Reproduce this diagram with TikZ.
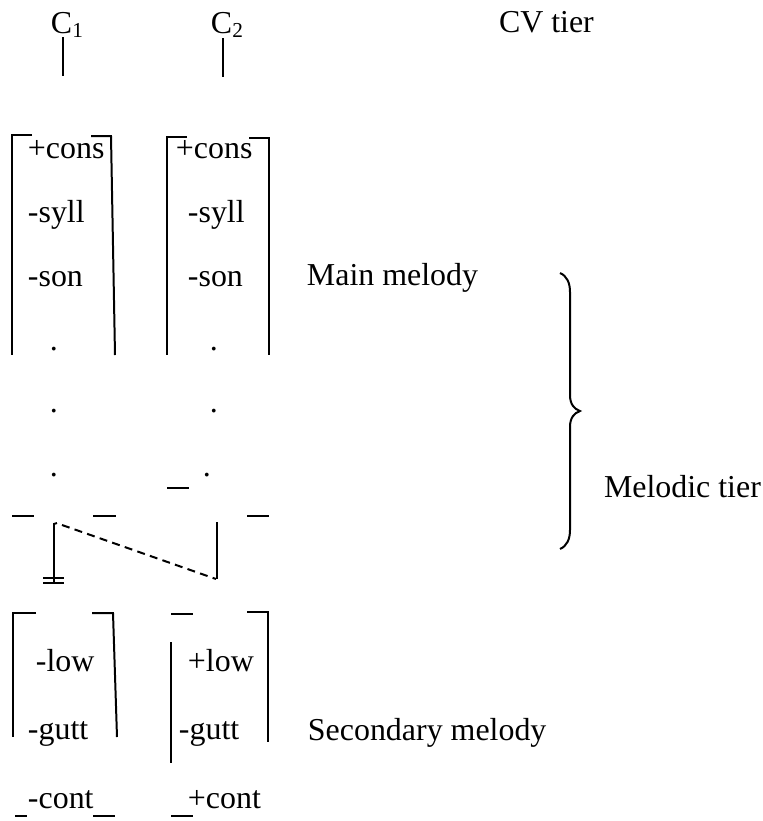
\documentclass[tikz,border=0pt]{standalone}
\usepackage{fontspec}
\setmainfont{Liberation Serif}
\usetikzlibrary{positioning}

\begin{document}
\begin{tikzpicture}[x=0.376pt, y=-0.376pt, line width=0.75pt,
    seg/.style={anchor=base west, inner sep=0pt, font=\fontsize{12}{14}\selectfont}]
    \useasboundingbox (0,0) rectangle (763,821);

    % CV tier
    \node[seg] (c1) at (50,33) {C\textsubscript{1}};
    \node[seg] (c2) at (210,33) {C\textsubscript{2}};
    \node[seg] (cvtier) at (498,32) {CV tier};
    \draw (63,37) -- (63,76);
    \draw (223,38) -- (223,77);

    % Main melody matrices
    \node[seg] (cons1) at (27,158) {+cons};
    \node[seg] (syll1) at (27,222) {-syll};
    \node[seg] (son1) at (27,286) {-son};
    \node[seg] (cons2) at (175,158) {+cons};
    \node[seg] (syll2) at (187,222) {-syll};
    \node[seg] (son2) at (187,286) {-son};
    \node[seg] (main) at (306,285) {Main melody};
    \draw (32,135) -- (12,135) -- (12,355);
    \draw (91,136) -- (111,136) -- (115,355);
    \draw (187,137) -- (167,137) -- (167,355);
    \draw (249,138) -- (269,138) -- (269,355);

    % Dots
    \foreach \y/\n in {350/a, 412/b, 476/c} {
        \node[seg] (dl\n) at (49,\y) {.};
    }
    \node[seg] (dra) at (209,350) {.};
    \node[seg] (drb) at (209,412) {.};
    \node[seg] (drc) at (202,476) {.};

    % Loose bracket pieces
    \draw (167,488) -- (189,488);
    \draw (12,516) -- (34,516);
    \draw (93,516) -- (116,516);
    \draw (247,516) -- (269,516);

    % Secondary melody links
    \draw (57,523) -- (54,524) -- (54,582);
    \draw (43,578) -- (64,578);
    \draw (43,583) -- (64,583);
    \draw[dash pattern=on 3pt off 2pt] (62,525) -- (216,579);
    \draw (217,522) -- (217,579);

    % Secondary melody matrices
    \node[seg] (low1) at (35,671) {-low};
    \node[seg] (gutt1) at (27,739) {-gutt};
    \node[seg] (cont1) at (27,808) {-cont};
    \node[seg] (low2) at (187,671) {+low};
    \node[seg] (gutt2) at (178,739) {-gutt};
    \node[seg] (cont2) at (187,808) {+cont};
    \node[seg] (second) at (307,740) {Secondary melody};
    \draw (36,613) -- (13,613) -- (13,737);
    \draw (92,613) -- (113,613) -- (117,737);
    \draw (171,614) -- (193,614);
    \draw (171,642) -- (171,763);
    \draw (247,612) -- (268,612) -- (268,742);
    \draw (15,816) -- (27,816);
    \draw (93,816) -- (115,816);
    \draw (171,816) -- (193,816);

    % Brace over the melodic tier
    \draw (560,273) .. controls (567,276) and (570,283) .. (570,292)
        -- (570,395) .. controls (570,404) and (574,409) .. (580,411)
        .. controls (574,413) and (570,418) .. (570,427)
        -- (570,530) .. controls (570,539) and (567,546) .. (560,549);
    \node[seg] (melodic) at (603,497) {Melodic tier};
\end{tikzpicture}
\end{document}
